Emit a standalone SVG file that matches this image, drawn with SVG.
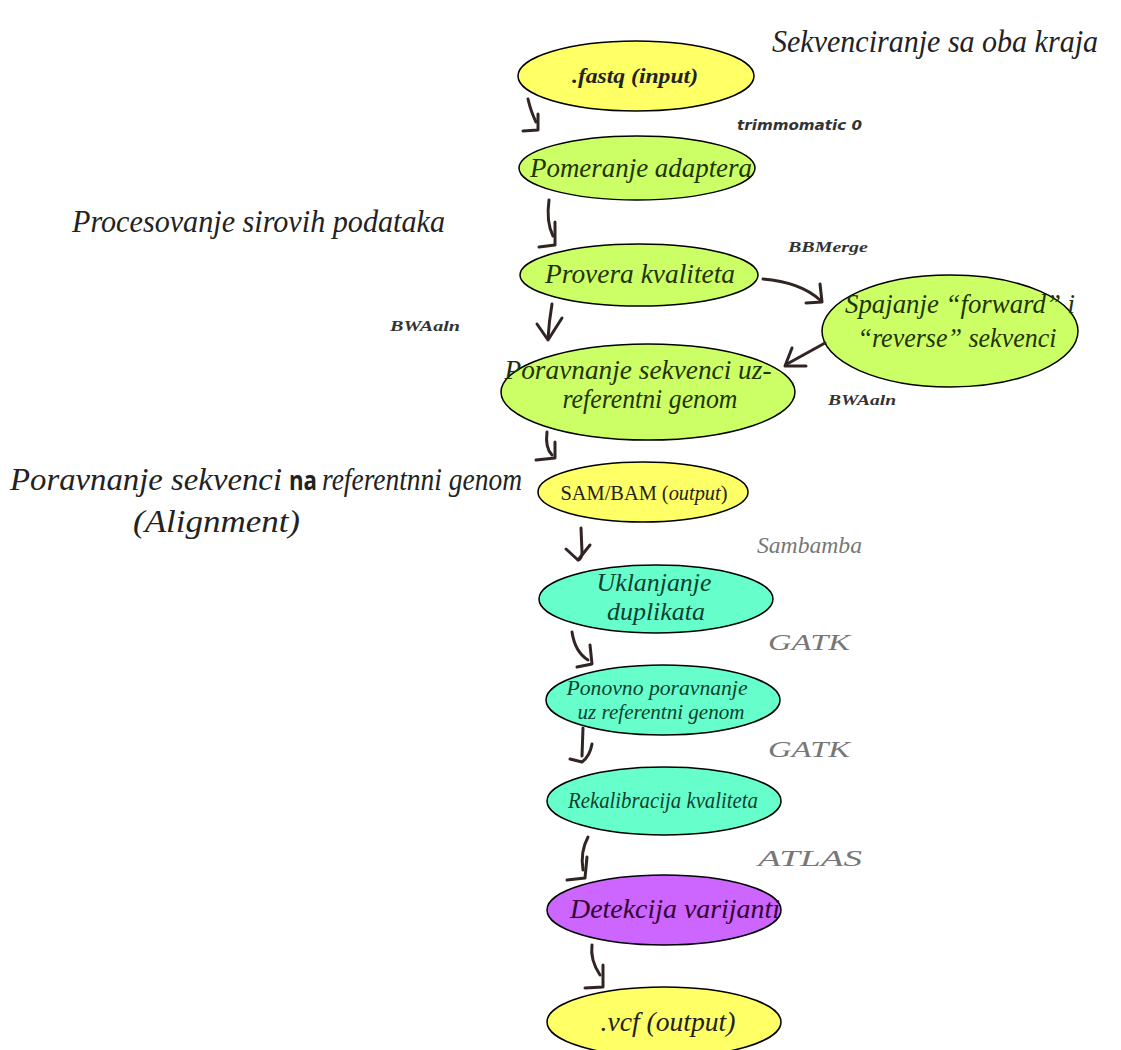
<svg xmlns="http://www.w3.org/2000/svg" width="1121" height="1050" viewBox="0 0 1121 1050">
<style>
.node ellipse{stroke:#000;stroke-width:1.5}
.y{fill:#ffff66}.g{fill:#ccff66}.t{fill:#66ffcc}.p{fill:#cc66ff}
.scr{font-family:"Liberation Serif","DejaVu Serif",serif;font-style:italic;text-anchor:middle}
.ng{fill:#1f3300}.nt{fill:#0f3f2f}.np{fill:#330033}.nk{fill:#222}
.head{font-family:"Liberation Serif","DejaVu Serif",serif;font-style:italic;fill:#222;font-size:32px}
.tool{font-family:"Liberation Serif","DejaVu Serif",serif;font-style:italic;font-weight:bold;fill:#333;font-size:15px}
.tool2{font-family:"Liberation Serif","DejaVu Serif",serif;font-style:italic;fill:#777;font-size:24px}
.conn path{fill:none;stroke:#332424;stroke-width:3;stroke-linecap:round;stroke-linejoin:round}
</style>
<rect width="1121" height="1050" fill="#fff"/>

<g id="labels">
<text class="head" x="772" y="52" font-size="28" textLength="326" lengthAdjust="spacingAndGlyphs">Sekvenciranje sa oba kraja</text>
<text class="head" x="72" y="232" textLength="373" lengthAdjust="spacingAndGlyphs">Procesovanje sirovih podataka</text>
<text class="head" x="10" y="490" textLength="272" lengthAdjust="spacingAndGlyphs">Poravnanje sekvenci</text>
<text x="289" y="490" font-family="'Open Sans','DejaVu Sans',sans-serif" font-weight="bold" font-size="26" fill="#222" textLength="28" lengthAdjust="spacingAndGlyphs">na</text>
<text class="head" x="322" y="490" textLength="200" lengthAdjust="spacingAndGlyphs">referentnni genom</text>
<text class="head" x="133" y="532" textLength="167" lengthAdjust="spacingAndGlyphs">(Alignment)</text>
<text x="737" y="130" font-family="'DejaVu Sans','Liberation Sans',sans-serif" font-style="italic" font-weight="bold" font-size="14" fill="#333" textLength="125" lengthAdjust="spacingAndGlyphs">trimmomatic 0</text>
<text class="tool" x="788" y="252" textLength="80" lengthAdjust="spacingAndGlyphs">BBMerge</text>
<text class="tool" x="390" y="331" textLength="70" lengthAdjust="spacingAndGlyphs">BWAaln</text>
<text class="tool" x="828" y="405" textLength="68" lengthAdjust="spacingAndGlyphs">BWAaln</text>
<text class="tool2" x="757" y="553" textLength="105" lengthAdjust="spacingAndGlyphs">Sambamba</text>
<text class="tool2" x="768" y="650" textLength="82" lengthAdjust="spacingAndGlyphs">GATK</text>
<text class="tool2" x="768" y="757" textLength="82" lengthAdjust="spacingAndGlyphs">GATK</text>
<text class="tool2" x="758" y="866" textLength="104" lengthAdjust="spacingAndGlyphs">ATLAS</text>
</g>

<g id="n1" class="node"><ellipse class="y" cx="636" cy="76" rx="118" ry="35"/><text class="scr nk" x="635" y="83" font-size="21" font-weight="bold" textLength="126" lengthAdjust="spacingAndGlyphs">.fastq (input)</text></g>
<g id="n2" class="node"><ellipse class="g" cx="637" cy="168" rx="118" ry="32"/><text class="scr ng" x="641" y="177" font-size="27" textLength="222" lengthAdjust="spacingAndGlyphs">Pomeranje adaptera</text></g>
<g id="n3" class="node"><ellipse class="g" cx="639" cy="275" rx="119" ry="31"/><text class="scr ng" x="640" y="283" font-size="27" textLength="190" lengthAdjust="spacingAndGlyphs">Provera kvaliteta</text></g>
<g id="n4" class="node"><ellipse class="g" cx="950" cy="331" rx="128" ry="56"/><text class="scr ng" x="960" y="313" font-size="27" textLength="230" lengthAdjust="spacingAndGlyphs">Spajanje “forward” i</text><text class="scr ng" x="957" y="347" font-size="27" textLength="199" lengthAdjust="spacingAndGlyphs">“reverse” sekvenci</text></g>
<g id="n5" class="node"><ellipse class="g" cx="648" cy="392" rx="147" ry="48"/><text class="scr ng" x="638" y="379" font-size="27" textLength="267" lengthAdjust="spacingAndGlyphs">Poravnanje sekvenci uz-</text><text class="scr ng" x="650" y="408" font-size="27" textLength="175" lengthAdjust="spacingAndGlyphs">referentni genom</text></g>
<g id="n6" class="node"><ellipse class="y" cx="643" cy="492" rx="105" ry="30"/><text x="644" y="500" font-family="'Liberation Serif',serif" font-size="21" fill="#222" text-anchor="middle" textLength="167" lengthAdjust="spacingAndGlyphs">SAM/BAM (<tspan font-style="italic">output</tspan>)</text></g>
<g id="n7" class="node"><ellipse class="t" cx="656" cy="599" rx="117" ry="34"/><text class="scr nt" x="654" y="591" font-size="25" textLength="115" lengthAdjust="spacingAndGlyphs">Uklanjanje</text><text class="scr nt" x="656" y="620" font-size="25" textLength="98" lengthAdjust="spacingAndGlyphs">duplikata</text></g>
<g id="n8" class="node"><ellipse class="t" cx="663" cy="700" rx="117" ry="35"/><text class="scr nt" x="657" y="695" font-size="21" textLength="181" lengthAdjust="spacingAndGlyphs">Ponovno poravnanje</text><text class="scr nt" x="661" y="719" font-size="21" textLength="167" lengthAdjust="spacingAndGlyphs">uz referentni genom</text></g>
<g id="n9" class="node"><ellipse class="t" cx="664" cy="801" rx="117" ry="34"/><text class="scr nt" x="663" y="808" font-size="23" textLength="190" lengthAdjust="spacingAndGlyphs">Rekalibracija kvaliteta</text></g>
<g id="n10" class="node"><ellipse class="p" cx="664" cy="910" rx="117" ry="35"/><text class="scr np" x="675" y="918" font-size="27" textLength="210" lengthAdjust="spacingAndGlyphs">Detekcija varijanti</text></g>
<g id="n11" class="node"><ellipse class="y" cx="664" cy="1022" rx="117" ry="35"/><text class="scr nk" x="668" y="1031" font-size="27" textLength="135" lengthAdjust="spacingAndGlyphs">.vcf (output)</text></g>

<g id="connectors" class="conn">
<path d="M528 99 Q531 112 536 122"/><path d="M538 114 L538 130 L523 131"/>
<path d="M549 200 Q546 222 553 236"/><path d="M555 222 L555 245 L539 247"/>
<path d="M552 304 Q549 322 548 338"/><path d="M537 324 L548 340 L562 318"/>
<path d="M763 279 Q800 282 820 300"/><path d="M820 284 L822 302 L806 303"/>
<path d="M825 343 L787 364"/><path d="M792 348 L785 366 L806 366"/>
<path d="M547 432 Q545 448 552 455"/><path d="M555 442 L555 458 L536 460"/>
<path d="M581 528 L582 552 Q582 559 578 560"/><path d="M566 549 L578 560 L590 545"/>
<path d="M572 632 Q575 652 588 660"/><path d="M590 645 L592 664 L577 667"/>
<path d="M583 728 L582 756"/><path d="M570 759 L582 762 Q590 756 592 744"/>
<path d="M588 837 Q580 852 583 870"/><path d="M587 857 L585 878 L567 880"/>
<path d="M592 945 Q590 960 600 975"/><path d="M603 965 L603 987 L585 988"/>
</g>
</svg>
